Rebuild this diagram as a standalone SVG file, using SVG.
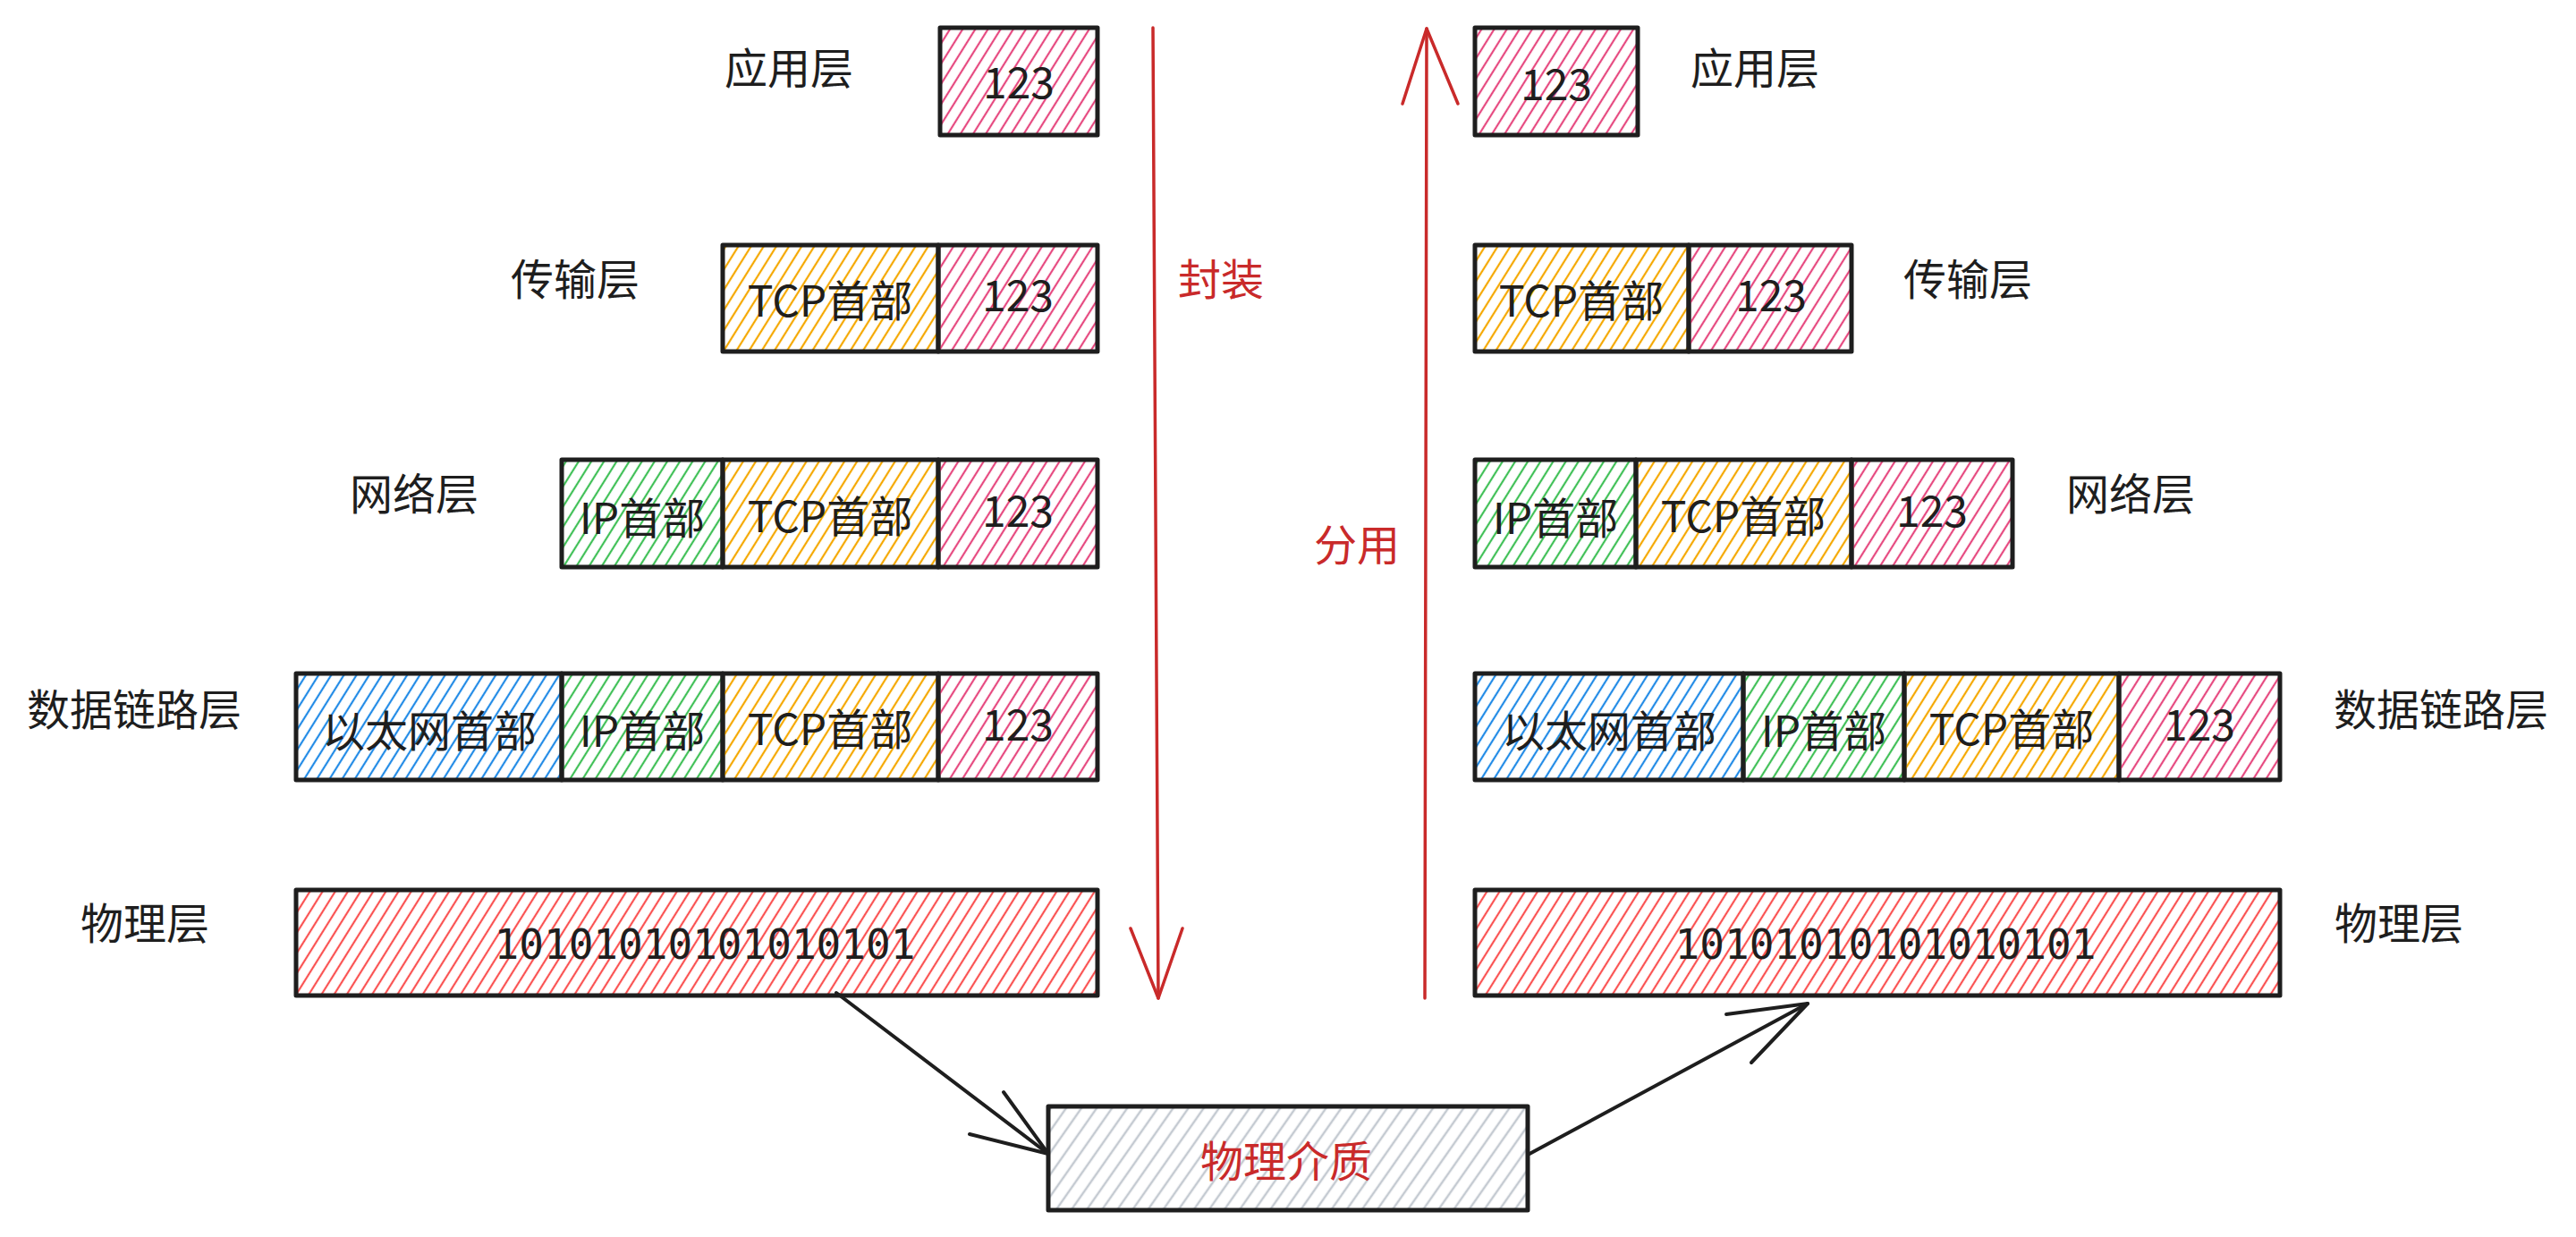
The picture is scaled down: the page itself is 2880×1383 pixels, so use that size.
<svg xmlns="http://www.w3.org/2000/svg" width="2880" height="1383" viewBox="0 0 2880 1383">
<defs>
<pattern id="hPink" width="12" height="12" patternUnits="userSpaceOnUse" patternTransform="rotate(32)"><line x1="6" y1="0" x2="6" y2="12" stroke="#e64980" stroke-width="2.2"/></pattern>
<pattern id="hOrange" width="12" height="12" patternUnits="userSpaceOnUse" patternTransform="rotate(32)"><line x1="6" y1="0" x2="6" y2="12" stroke="#f5a800" stroke-width="2.2"/></pattern>
<pattern id="hGreen" width="12" height="12" patternUnits="userSpaceOnUse" patternTransform="rotate(32)"><line x1="6" y1="0" x2="6" y2="12" stroke="#40c057" stroke-width="2.2"/></pattern>
<pattern id="hBlue" width="12" height="12" patternUnits="userSpaceOnUse" patternTransform="rotate(32)"><line x1="6" y1="0" x2="6" y2="12" stroke="#228be6" stroke-width="2.2"/></pattern>
<pattern id="hRed" width="12" height="12" patternUnits="userSpaceOnUse" patternTransform="rotate(32)"><line x1="6" y1="0" x2="6" y2="12" stroke="#fa5252" stroke-width="2.2"/></pattern>
<pattern id="hGray" width="14" height="14" patternUnits="userSpaceOnUse" patternTransform="rotate(35)"><line x1="7" y1="0" x2="7" y2="14" stroke="#c4cad1" stroke-width="2.5"/></pattern>
</defs>
<style>
.box{stroke:#1e1e1e;stroke-width:5;stroke-linejoin:round}
.pink{fill:url(#hPink)}
.orange{fill:url(#hOrange)}
.green{fill:url(#hGreen)}
.blue{fill:url(#hBlue)}
.red{fill:url(#hRed)}
.gray{fill:url(#hGray)}
.t{font-family:"Noto Sans CJK SC","Noto Sans",sans-serif;font-size:48px;fill:#1e1e1e;text-anchor:middle;dominant-baseline:central}
.mono{font-family:"DejaVu Sans Mono","Liberation Mono",monospace;font-size:46px;fill:#1e1e1e;text-anchor:middle;dominant-baseline:central}
.rt{fill:#c92a2a}
.ra{stroke:#c92a2a;stroke-width:3.5;fill:none;stroke-linecap:round;stroke-linejoin:round}
.ka{stroke:#1e1e1e;stroke-width:4;fill:none;stroke-linecap:round;stroke-linejoin:round}
</style>
<rect width="2880" height="1383" fill="#ffffff"/>

<!-- left column -->
<g id="L-app-label"><text class="t" x="882" y="73">应用层</text></g>
<g id="L-app-data"><rect class="box pink" x="1051" y="31" width="176" height="120"/><text class="t" x="1139" y="89">123</text></g>

<g id="L-tr-label"><text class="t" x="643" y="309">传输层</text></g>
<g id="L-tr-tcp"><rect class="box orange" x="808" y="274" width="241" height="119"/><text class="t" x="928" y="333">TCP首部</text></g>
<g id="L-tr-data"><rect class="box pink" x="1049" y="274" width="178" height="119"/><text class="t" x="1138" y="327">123</text></g>

<g id="L-nw-label"><text class="t" x="463" y="549">网络层</text></g>
<g id="L-nw-ip"><rect class="box green" x="628" y="514" width="180" height="120"/><text class="t" x="718" y="576">IP首部</text></g>
<g id="L-nw-tcp"><rect class="box orange" x="808" y="514" width="241" height="120"/><text class="t" x="928" y="574">TCP首部</text></g>
<g id="L-nw-data"><rect class="box pink" x="1049" y="514" width="178" height="120"/><text class="t" x="1138" y="568">123</text></g>

<g id="L-dl-label"><text class="t" x="150" y="790">数据链路层</text></g>
<g id="L-dl-eth"><rect class="box blue" x="331" y="753" width="297" height="119"/><text class="t" x="480" y="814">以太网首部</text></g>
<g id="L-dl-ip"><rect class="box green" x="628" y="753" width="180" height="119"/><text class="t" x="718" y="814">IP首部</text></g>
<g id="L-dl-tcp"><rect class="box orange" x="808" y="753" width="241" height="119"/><text class="t" x="928" y="812">TCP首部</text></g>
<g id="L-dl-data"><rect class="box pink" x="1049" y="753" width="178" height="119"/><text class="t" x="1138" y="807">123</text></g>

<g id="L-ph-label"><text class="t" x="162" y="1029">物理层</text></g>
<g id="L-ph-bits"><rect class="box red" x="331" y="995" width="896" height="118"/><text class="mono" x="788" y="1056">10101010101010101</text></g>

<!-- right column -->
<g id="R-app-data"><rect class="box pink" x="1649" y="31" width="182" height="120"/><text class="t" x="1740" y="91">123</text></g>
<g id="R-app-label"><text class="t" x="1962" y="73">应用层</text></g>

<g id="R-tr-tcp"><rect class="box orange" x="1649" y="274" width="239" height="119"/><text class="t" x="1768" y="333">TCP首部</text></g>
<g id="R-tr-data"><rect class="box pink" x="1888" y="274" width="182" height="119"/><text class="t" x="1980" y="327">123</text></g>
<g id="R-tr-label"><text class="t" x="2200" y="309">传输层</text></g>

<g id="R-nw-ip"><rect class="box green" x="1649" y="514" width="180" height="120"/><text class="t" x="1739" y="576">IP首部</text></g>
<g id="R-nw-tcp"><rect class="box orange" x="1829" y="514" width="241" height="120"/><text class="t" x="1949" y="574">TCP首部</text></g>
<g id="R-nw-data"><rect class="box pink" x="2070" y="514" width="180" height="120"/><text class="t" x="2160" y="568">123</text></g>
<g id="R-nw-label"><text class="t" x="2382" y="549">网络层</text></g>

<g id="R-dl-eth"><rect class="box blue" x="1649" y="753" width="300" height="119"/><text class="t" x="1799" y="814">以太网首部</text></g>
<g id="R-dl-ip"><rect class="box green" x="1949" y="753" width="180" height="119"/><text class="t" x="2039" y="814">IP首部</text></g>
<g id="R-dl-tcp"><rect class="box orange" x="2129" y="753" width="240" height="119"/><text class="t" x="2249" y="812">TCP首部</text></g>
<g id="R-dl-data"><rect class="box pink" x="2369" y="753" width="180" height="119"/><text class="t" x="2459" y="807">123</text></g>
<g id="R-dl-label"><text class="t" x="2729" y="790">数据链路层</text></g>

<g id="R-ph-bits"><rect class="box red" x="1649" y="995" width="900" height="118"/><text class="mono" x="2108" y="1056">10101010101010101</text></g>
<g id="R-ph-label"><text class="t" x="2682" y="1029">物理层</text></g>

<!-- medium -->
<g id="medium"><rect class="box gray" x="1172" y="1237" width="536" height="116"/><text class="t rt" x="1438" y="1295">物理介质</text></g>

<!-- labels on arrows -->
<g id="lbl-encap"><text class="t rt" x="1365" y="309">封装</text></g>
<g id="lbl-demux"><text class="t rt" x="1517" y="606">分用</text></g>

<!-- connectors -->
<g id="connectors">
<path class="ra" d="M1289 31 L1295 1116"/>
<path class="ra" d="M1264 1038 L1295 1116 L1322 1038"/>
<path class="ra" d="M1593 1116 L1595 32"/>
<path class="ra" d="M1568 116 L1595 32 L1630 116"/>
<path class="ka" d="M935 1110 L1172 1290"/>
<path class="ka" d="M1084 1268 L1172 1290 L1122 1221"/>
<path class="ka" d="M1710 1290 L2021 1122"/>
<path class="ka" d="M1930 1134 L2021 1122 L1958 1188"/>
</g>
</svg>
